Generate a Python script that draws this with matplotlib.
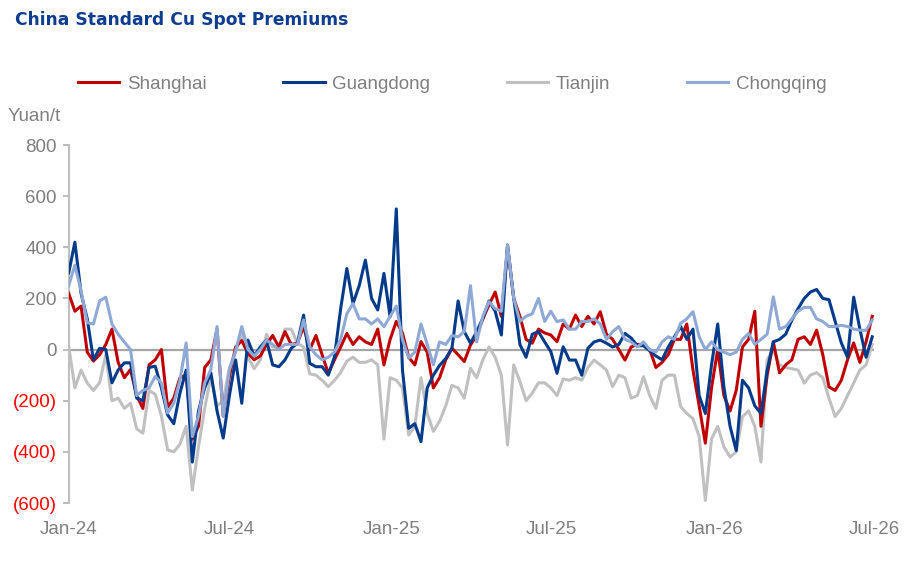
import pandas as pd
import matplotlib.pyplot as plt
from matplotlib.lines import Line2D

# weekly readings, Jan-2024 onwards
weeks = pd.date_range('2024-01-01', periods=131, freq='7D')

shanghai = [220, 150, 170, -10, -45, -20, 20, 80, -50, -110, -78, -180, -230, -60, -40, 0,
            -225, -190, -110, -100, -350, -300, -70, -40, 80, -260, -105,
            10, 35, -15, -40, -25, 20, 55, 10, 70, 20, 25, 90, 0, 55, -20, -93, -40, 10, 63,
            20, 50, 30, 20, 80, -60, 40,
            110, 65, -30, -60, 31, -10, -150, -110, -40, 5, -20, -47, 18, 55, 120, 175, 225,
            130, 400, 200, 130, 40, 25, 80, 65, 57, 31,
            100, 80, 135, 90, 130, 100, 148, 60, 40, 0, -41, 10, 20, 20, 0, -70, -50, -20, 40,
            40, 100, -80, -220, -366, -150,
            0, -180, -240, -160, 10, 40, 150, -300, -100, 30, -91, -60, -40, 40, 50, 20, 76,
            -20, -146, -160, -120, -40, 26, -50, 30, 130]

guangdong = [300, 420, 220, 120, -40, 5, 0, -130, -80, -52, -52, -190, -200, -70, -65, -150,
             -255, -290, -170, -80, -440, -240, -150, -91, -240, -346, -180,
             -40, -210, 37, -25, 10, 37, -60, -67, -40, 5, 25, 135, -54, -67, -67, -100, -28,
             160, 317, 180, 250, 350, 200, 155, 298, 128,
             550, -80, -308, -290, -360, -150, -100, -62, -35, 5, 190, 70, 25, 70, 122, 190,
             150, 57, 409, 200, 20, -30, 60, 70, 30, -8, -93,
             11, -41, -41, -100, 5, 30, 37, 25, 10, 20, 63, 45, 15, 15, -5, -25, -40, 10, 50,
             90, 40, 80, -180, -250, -60,
             100, -146, -300, -395, -120, -150, -220, -250, -80, 30, 40, 60, 115, 160, 200,
             225, 235, 200, 195, 110, 26, -30, 205, 80, -30, 50]

tianjin = [13, -150, -80, -131, -160, -130, -20, -200, -190, -230, -210, -310, -327, -160, -175,
           -260, -392, -400, -370, -300, -549, -380, -230, -105, -220, -200, -70,
           -10, 60, -30, -75, -40, 60, 10, 10, 80, 80, 25, 10, -95, -100, -120, -145, -120,
           -90, -45, -30, -50, -50, -40, -60, -350, -110,
           -120, -150, -334, -300, -110, -250, -320, -280, -220, -140, -150, -190, -73, -110,
           -40, 10, -30, -100, -373, -60, -125, -200, -170, -130, -130, -150, -180,
           -115, -120, -110, -120, -70, -41, -60, -80, -145, -100, -110, -190, -180, -106,
           -180, -230, -120, -100, -100, -223, -250, -270, -340, -590, -350,
           -300, -380, -420, -400, -262, -240, -300, -440, -40, 0, -60, -70, -75, -80, -131,
           -100, -90, -110, -190, -262, -230, -180, -131, -80, -60, 20]

chongqing = [250, 330, 230, 105, 100, 190, 205, 100, 60, 30, 0, -180, -160, -150, -105, -130,
             -248, -210, -120, 26, -340, -260, -130, -78, 90, -261, -80,
             -5, 90, 0, -25, 0, 37, 20, 0, 20, 20, 20, 116, 10, -20, -40, -30, -10, 40, 140,
             180, 120, 120, 100, 120, 89, 130,
             170, 40, -34, -10, 100, 20, -60, 30, 20, 55, 50, 70, 250, 30, 130, 187, 160, 150,
             409, 200, 110, 130, 140, 200, 110, 150, 109,
             116, 80, 80, 110, 110, 120, 100, 40, 70, 90, 40, 30, 10, 30, 0, -10, 30, 50, 40,
             103, 120, 148, 50, 0, 30,
             0, -10, -20, -10, 40, 63, 20, 40, 60, 206, 80, 90, 120, 150, 165, 165, 120, 110,
             90, 90, 95, 90, 80, 76, 75, 116]

x_ticks = ['2024-01-01', '2024-07-01', '2025-01-01', '2025-07-01', '2026-01-01', '2026-07-01']
x_labels = ['Jan-24', 'Jul-24', 'Jan-25', 'Jul-25', 'Jan-26', 'Jul-26']
y_ticks = [-600, -400, -200, 0, 200, 400, 600, 800]
y_labels = ['(600)', '(400)', '(200)', '0', '200', '400', '600', '800']

plt.rcParams['font.family'] = ['Liberation Sans', 'DejaVu Sans']

fig = plt.figure(figsize=(9.07, 5.67), dpi=100)
ax = fig.add_axes([68.7 / 907, 64 / 567, (874 - 68.7) / 907, 358 / 567])

ax.axhline(0, color='#A6A6A6', lw=1.6, zorder=1)
ax.plot(weeks, tianjin, color='#C0C0C0', lw=2.2, zorder=2)
ax.plot(weeks, shanghai, color='#C00000', lw=2.2, zorder=3)
ax.plot(weeks, guangdong, color='#033A8A', lw=2.2, zorder=4)
ax.plot(weeks, chongqing, color='#8FA9D6', lw=2.2, zorder=5)

ax.set_xlim(pd.Timestamp('2024-01-01'), pd.Timestamp('2026-07-01'))
ax.set_ylim(-600, 800)
ax.set_xticks(pd.to_datetime(x_ticks))
ax.set_xticklabels(x_labels)
ax.set_yticks(y_ticks)
ax.set_yticklabels(y_labels)

for lab, v in zip(ax.get_yticklabels(), y_ticks):
    lab.set_color('#FF0000' if v < 0 else '#7F7F7F')

for s in ['top', 'right', 'bottom']:
    ax.spines[s].set_visible(False)
ax.spines['left'].set_color('#BFBFBF')
ax.spines['left'].set_linewidth(1.5)
ax.tick_params(axis='y', length=4.5, width=1.5, color='#BFBFBF', labelsize=13.5, pad=4)
ax.tick_params(axis='x', length=0, labelsize=13.5, labelcolor='#7F7F7F', pad=13)

fig.text(15 / 907, 1 - 20 / 567, 'China Standard Cu Spot Premiums', fontsize=12.3,
         fontweight='bold', color='#0E3D8F', va='center', family=['DejaVu Sans'])
fig.text(8 / 907, 1 - 117 / 567, 'Yuan/t', fontsize=13.5, color='#7F7F7F', va='center')

handles = [Line2D([], [], color='#C00000', lw=2.2),
           Line2D([], [], color='#033A8A', lw=2.2),
           Line2D([], [], color='#C0C0C0', lw=2.2),
           Line2D([], [], color='#8FA9D6', lw=2.2)]
leg = fig.legend(handles, ['Shanghai', 'Guangdong', 'Tianjin', 'Chongqing'], ncol=4,
                 loc='center left', bbox_to_anchor=(78 / 907, 1 - 84 / 567), frameon=False,
                 fontsize=13.5, handlelength=2.2, handletextpad=0.4, columnspacing=4.1,
                 borderpad=0, borderaxespad=0)
for t in leg.get_texts():
    t.set_color('#7F7F7F')

fig.savefig('out.png', dpi=100)
